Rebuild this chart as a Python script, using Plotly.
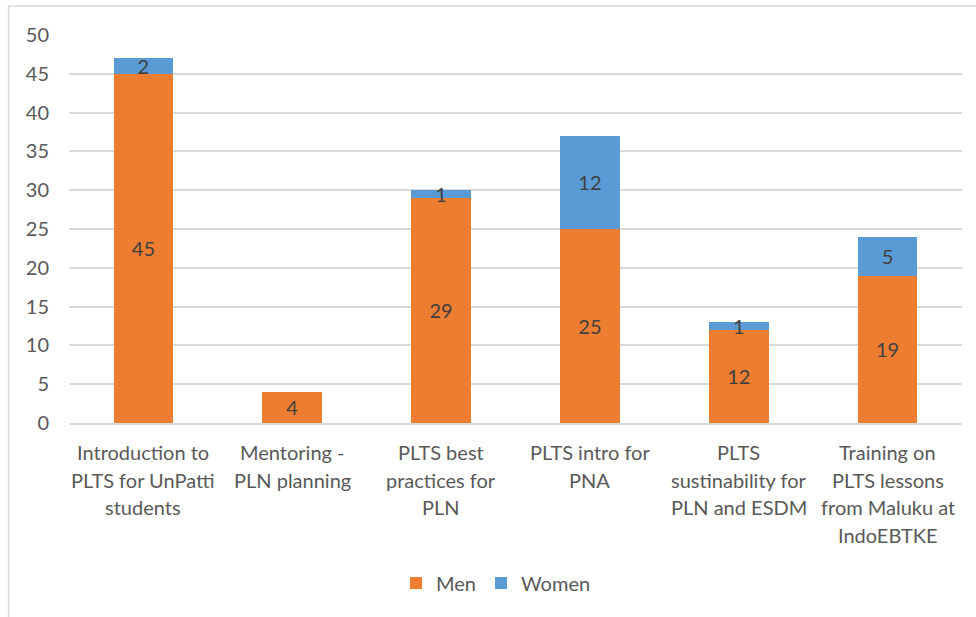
import plotly.graph_objects as go

categories = [
    "Introduction to<br>PLTS for UnPatti<br>students",
    "Mentoring -<br>PLN planning",
    "PLTS best<br>practices for<br>PLN",
    "PLTS intro for<br>PNA",
    "PLTS<br>sustinability for<br>PLN and ESDM",
    "Training on<br>PLTS lessons<br>from Maluku at<br>IndoEBTKE",
]
men = [45, 4, 29, 25, 12, 19]
women = [2, None, 1, 12, 1, 5]
y_ticks = [0, 5, 10, 15, 20, 25, 30, 35, 40, 45, 50]

W, H = 976, 617
L, R, T, B = 68.5, 13.5, 35, 194
pw, ph = W - L - R, H - T - B

def px(x):
    return (x - L) / pw

def py(y):
    return (H - B - y) / ph

FONT = "Lato"
FS = 20
xs = list(range(len(categories)))
fig = go.Figure()
fig.add_trace(go.Bar(
    x=xs, y=men, name="Men",
    marker=dict(color="#ED7D31", line=dict(width=0)),
    text=[str(v) for v in men], textposition="inside", insidetextanchor="middle",
    textangle=0,
    textfont=dict(family=FONT, size=FS, color="#404040"),
))
fig.add_trace(go.Bar(
    x=xs, y=women, name="Women",
    marker=dict(color="#5B9BD5", line=dict(width=0)),
    text=[str(v) if v is not None else "" for v in women], textposition="inside",
    insidetextanchor="middle", textangle=0,
    textfont=dict(family=FONT, size=FS, color="#404040"),
))

annotations = []
for i, lab in enumerate(categories):
    for j, line in enumerate(lab.split("<br>")):
        annotations.append(dict(
            x=i, xref="x", y=py(452 + 27.6 * j), yref="paper",
            text=line, showarrow=False, xanchor="center", yanchor="middle",
            font=dict(family=FONT, size=FS, color="#595959"),
        ))

fig.update_layout(
    width=W, height=H,
    barmode="stack", bargap=0.6,
    margin=dict(l=L, r=R, t=T, b=B),
    paper_bgcolor="white", plot_bgcolor="white",
    font=dict(family=FONT, size=FS, color="#595959"),
    uniformtext=dict(minsize=FS, mode="show"),
    showlegend=True,
    legend=dict(orientation="h", x=px(496), xanchor="center", y=py(583), yanchor="middle",
                font=dict(family=FONT, size=FS, color="#595959"), traceorder="normal",
                itemwidth=30),
    xaxis=dict(
        tickvals=xs, showticklabels=False,
        range=[-0.5, len(categories) - 0.5],
        showgrid=False, showline=True, linecolor="#D9D9D9", linewidth=1.5,
        ticks="",
    ),
    yaxis=dict(
        range=[0, 50], tickvals=y_ticks, showgrid=True, gridcolor="#D9D9D9",
        gridwidth=1.5, zeroline=False, showline=False, ticks="",
        ticklabelstandoff=19,
        tickfont=dict(family=FONT, size=FS, color="#595959"),
    ),
    annotations=annotations,
    shapes=[dict(type="rect", xref="paper", yref="paper",
                 x0=px(8), x1=px(990), y0=py(630), y1=py(6),
                 line=dict(color="#D9D9D9", width=1.5), layer="below")],
)

fig.write_html("out.html")
